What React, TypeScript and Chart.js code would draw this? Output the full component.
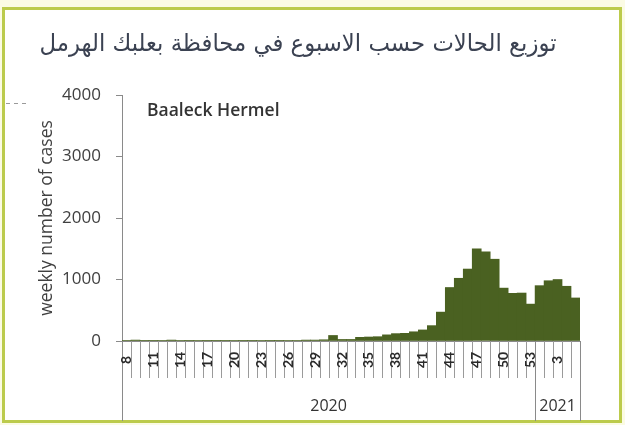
import React, { useEffect, useRef } from "react";
import { Chart, registerables } from "chart.js";

Chart.register(...registerables);

const titleText = "توزيع الحالات حسب الاسبوع في محافظة بعلبك الهرمل";
const regionName = "Baaleck Hermel";
const yAxisTitle = "weekly number of cases";

const weekLabels = [
  "8", "9", "10", "11", "12", "13", "14", "15", "16", "17", "18", "19", "20",
  "21", "22", "23", "24", "25", "26", "27", "28", "29", "30", "31", "32", "33",
  "34", "35", "36", "37", "38", "39", "40", "41", "42", "43", "44", "45", "46",
  "47", "48", "49", "50", "51", "52", "53",
  "1", "2", "3", "4", "5",
];

const cases2020 = [
  10, 15, 5, 5, 10, 15, 10, 5, 10, 5, 5, 5, 10, 5, 5, 10, 5, 5, 10, 10, 15, 15, 20,
  90, 25, 25, 60, 65, 70, 100, 120, 125, 150, 180, 250, 470, 870, 1020, 1170,
  1500, 1450, 1330, 860, 775, 780, 600,
];
const cases2021 = [900, 980, 1000, 890, 700];

const shownTickLabels = ["8", "11", "14", "17", "20", "23", "26", "29", "32", "35", "38", "41", "44", "47", "50", "53", "3"];
const years = ["2020", "2021"];
const yearWeekCounts = [46, 5];

const yTicks = [0, 1000, 2000, 3000, 4000];

const BAR_COLOR = "#4a6121";

export default function App() {
  const ref = useRef<HTMLCanvasElement | null>(null);

  useEffect(() => {
    const canvas = ref.current;
    if (!canvas) return;
    const data = [...cases2020, ...cases2021];

    const overlay = {
      id: "overlay",
      afterDraw(chart: any) {
        const ctx = chart.ctx as CanvasRenderingContext2D;
        const xs = chart.scales.x;
        const area = chart.chartArea;
        const n = weekLabels.length;
        const w = (area.right - area.left) / n;
        ctx.save();

        // title
        ctx.fillStyle = "#3b4252";
        ctx.textAlign = "center";
        ctx.textBaseline = "middle";
        ctx.font = "24px 'DejaVu Sans', sans-serif";
        const tw = ctx.measureText(titleText).width;
        const targetW = 517;
        ctx.save();
        ctx.translate(298, 45);
        ctx.scale(targetW / tw, 1);
        ctx.fillText(titleText, 0, 0);
        ctx.restore();

        // region name
        ctx.fillStyle = "#333333";
        ctx.textAlign = "left";
        ctx.font = "600 17.5px 'Open Sans', sans-serif";
        ctx.fillText(regionName, 147, 111);

        // y title
        ctx.save();
        ctx.translate(47, 218);
        ctx.rotate(-Math.PI / 2);
        ctx.textAlign = "center";
        ctx.fillStyle = "#404040";
        ctx.font = "17.5px 'Open Sans', sans-serif";
        ctx.fillText(yAxisTitle, 0, 0);
        ctx.restore();

        // separators
        ctx.strokeStyle = "#9a9a9a";
        ctx.lineWidth = 1;
        for (let i = 1; i < n; i++) {
          const x = Math.round(area.left + i * w) + 0.5;
          ctx.beginPath();
          ctx.moveTo(x, area.bottom);
          ctx.lineTo(x, 378);
          ctx.stroke();
        }
        // year dividers
        let acc = 0;
        const divs = [0];
        yearWeekCounts.forEach((c) => {
          acc += c;
          divs.push(acc);
        });
        ctx.strokeStyle = "#8a8a8a";
        divs.forEach((d) => {
          const x = Math.round(area.left + d * w) + 0.5;
          ctx.beginPath();
          ctx.moveTo(x, area.bottom);
          ctx.lineTo(x, 421);
          ctx.stroke();
        });

        // x tick labels
        ctx.fillStyle = "#2a2a2a";
        ctx.font = "bold 14px Lato, sans-serif";
        ctx.textAlign = "center";
        ctx.textBaseline = "middle";
        let si = 0;
        weekLabels.forEach((lab, i) => {
          if (i % 3 !== 0) return;
          if (shownTickLabels[si] !== lab) return;
          si++;
          const x = xs.getPixelForValue(i);
          ctx.save();
          ctx.translate(x, 360);
          ctx.rotate(-Math.PI / 2);
          ctx.fillText(lab, 0, 0);
          ctx.restore();
        });

        // year labels
        ctx.font = "16px 'Open Sans', sans-serif";
        ctx.fillStyle = "#333333";
        years.forEach((y, k) => {
          const x0 = area.left + divs[k] * w;
          const x1 = area.left + divs[k + 1] * w;
          ctx.fillText(y, (x0 + x1) / 2, 406);
        });

        // small dashed fragment
        ctx.strokeStyle = "#9a9a9a";
        ctx.setLineDash([4, 4]);
        ctx.beginPath();
        ctx.moveTo(6, 103.5);
        ctx.lineTo(28, 103.5);
        ctx.stroke();
        ctx.restore();
      },
    };

    const chart = new Chart(canvas, {
      type: "bar",
      data: {
        labels: weekLabels,
        datasets: [
          {
            data,
            backgroundColor: BAR_COLOR,
            borderWidth: 0,
            barPercentage: 1,
            categoryPercentage: 1,
          },
        ],
      },
      options: {
        animation: false,
        responsive: false,
        layout: { padding: { left: 62, top: 95, right: 45, bottom: 4 } },
        plugins: {
          legend: { display: false },
          tooltip: { enabled: false },
          title: { display: false },
        },
        scales: {
          x: {
            type: "category",
            offset: true,
            grid: { display: false, drawTicks: false },
            border: { display: true, color: "#8a8a8a", width: 1 },
            ticks: { display: false },
            afterFit: (s: any) => {
              s.height = 80;
            },
          },
          y: {
            min: 0,
            max: 4000,
            afterBuildTicks: (s: any) => {
              s.ticks = yTicks.map((v) => ({ value: v }));
            },
            grid: { display: true, drawOnChartArea: false, drawTicks: true, tickLength: 6, color: "#8a8a8a" },
            border: { display: true, color: "#8a8a8a", width: 1 },
            ticks: {
              padding: 15,
              color: "#404040",
              font: { family: "'Open Sans', sans-serif", size: 17 },
              callback: (v: any) => String(v),
            },
            afterFit: (s: any) => {
              s.width = 60;
            },
          },
        },
      },
      plugins: [overlay],
    });
    return () => chart.destroy();
  }, []);

  return (
    <div style={{ position: "fixed", left: 0, top: 0, width: 625, height: 425, background: "#fbfbe4", overflow: "hidden" }}>
      <div
        style={{
          position: "absolute",
          left: 2,
          top: 7,
          width: 614,
          height: 410,
          border: "3px solid #bccb4c",
          background: "#ffffff",
        }}
      />
      <canvas ref={ref} width={625} height={425} style={{ position: "absolute", left: 0, top: 0, width: 625, height: 425 }} />
    </div>
  );
}
